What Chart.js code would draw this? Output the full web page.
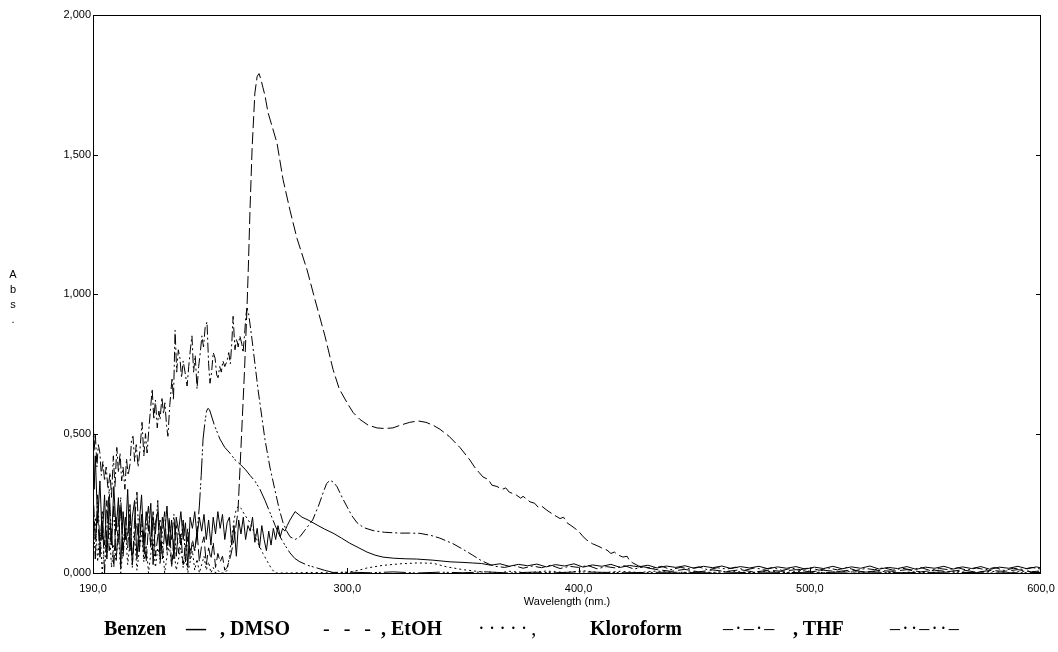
<!DOCTYPE html>
<html>
<head>
<meta charset="utf-8">
<title>Spektrum</title>
<script src="https://cdn.jsdelivr.net/npm/chart.js@4.4.1/dist/chart.umd.min.js"></script>
<style>
  body { margin: 0; background: #fff; }
  #wrap { position: relative; width: 1058px; height: 652px; overflow: hidden; }
  #chart { position: absolute; left: 0; top: 0; }
  #absTitle { position: absolute; left: 8px; top: 267px; width: 10px; text-align: center;
    font: 11px "Liberation Sans", Arial, sans-serif; line-height: 15px; color: #000; }
  .leg { position: absolute; top: 616px; font: bold 20px "Liberation Serif", "Times New Roman", serif;
    line-height: 24px; white-space: pre; color: #000; }
  .smp { font-weight: normal; }
</style>
</head>
<body>
<div id="wrap">
  <canvas id="chart" width="1058" height="652"></canvas>
  <div id="absTitle">A<br>b<br>s<br>.</div>
  <span class="leg" style="left:104px">Benzen</span>
  <span class="leg" style="left:186px">—</span>
  <span class="leg" style="left:220px">, DMSO</span>
  <span class="leg smp" style="left:323px; word-spacing:9px">- - -</span>
  <span class="leg" style="left:381px">, EtOH</span>
  <span class="leg smp" style="left:478px; letter-spacing:4px">·····,</span>
  <span class="leg" style="left:590px">Kloroform</span>
  <span class="leg smp" style="left:723px; letter-spacing:2px">–·–·–</span>
  <span class="leg" style="left:793px">, THF</span>
  <span class="leg smp" style="left:890px; letter-spacing:2px">–··–··–</span>
</div>
<script>
// axis ticks
const xTicks = [190, 300, 400, 500, 600];
const yTicks = [0, 0.5, 1, 1.5, 2];

// Benzen
const benzenNm = [
  190, 190.5, 191, 192, 193, 194, 195, 196, 197, 198,
  199, 200, 201, 202, 203, 204, 205, 206, 207, 208,
  209, 210, 211, 212, 213, 214, 215, 216, 217, 218,
  219, 220, 221, 222, 223, 224, 225, 226, 227, 228,
  229, 230, 231, 232, 233, 234, 235, 236, 237, 238,
  239, 240, 241, 242, 243, 244, 245, 246, 247, 248,
  249, 250, 251, 252, 253, 254, 255, 256, 257, 258,
  259, 260, 261, 262, 263, 264, 265, 266, 267, 268,
  269, 270, 271, 272, 273, 274, 275.2, 277.4, 280.4, 283,
  286.9, 290, 293.8, 297.5, 301, 305, 308.5, 312, 315.4, 320,
  325, 330, 337, 344.4, 350, 354, 358, 362, 366, 370,
  374, 378, 382, 386, 390, 394, 398, 402, 406, 410,
  414, 418, 422, 426, 430, 434, 438, 442, 446, 450,
  454, 458, 462, 466, 470, 474, 478, 482, 486, 490,
  494, 498, 502, 506, 510, 514, 518, 522, 526, 530,
  534, 538, 542, 546, 550, 554, 558, 562, 566, 570,
  574, 578, 582, 586, 590, 594, 598, 600
];
const benzenAbs = [
  0.55, 0.30, 0.42, 0.18, 0.33, 0.12, 0.28, 0.05, 0.25, 0.10,
  0.31, 0.15, 0.27, 0.02, 0.22, 0.12, 0.30, 0.08, 0.20, 0.26,
  0.05, 0.18, 0.28, 0.10, 0.22, 0.15, 0.25, 0.03, 0.18, 0.22,
  0.08, 0.20, 0.14, 0.24, 0.10, 0.19, 0.05, 0.20, 0.15, 0.22,
  0.12, 0.18, 0.02, 0.20, 0.16, 0.22, 0.13, 0.20, 0.15, 0.21,
  0.12, 0.19, 0.10, 0.20, 0.14, 0.22, 0.16, 0.21, 0.12, 0.18,
  0.20, 0.10, 0.17, 0.06, 0.19, 0.14, 0.20, 0.12, 0.17, 0.15,
  0.20, 0.11, 0.16, 0.09, 0.17, 0.12, 0.08, 0.15, 0.10, 0.16,
  0.12, 0.17, 0.13, 0.16, 0.15, 0.17, 0.19, 0.22, 0.20, 0.19,
  0.172, 0.158, 0.143, 0.125, 0.107, 0.090, 0.075, 0.064, 0.057, 0.053,
  0.051, 0.050, 0.046, 0.040, 0.038, 0.036, 0.034, 0.028, 0.033, 0.024,
  0.031, 0.026, 0.032, 0.022, 0.030, 0.025, 0.033, 0.021, 0.029, 0.024,
  0.031, 0.020, 0.027, 0.022, 0.028, 0.018, 0.025, 0.020, 0.026, 0.017,
  0.024, 0.019, 0.025, 0.016, 0.023, 0.018, 0.024, 0.015, 0.022, 0.017,
  0.023, 0.014, 0.021, 0.016, 0.024, 0.015, 0.022, 0.017, 0.025, 0.014,
  0.020, 0.016, 0.023, 0.013, 0.021, 0.017, 0.024, 0.014, 0.022, 0.016,
  0.023, 0.013, 0.021, 0.017, 0.024, 0.015, 0.022, 0.018
];

// DMSO
const dmsoNm = [
  190, 191, 192, 193, 194, 195, 196, 197, 198, 199,
  200, 201, 202, 203, 204, 205, 206, 207, 208, 209,
  210, 211, 212, 213, 214, 215, 216, 217, 218, 219,
  220, 221, 222, 223, 224, 225, 226, 227, 228, 229,
  230, 231, 232, 233, 234, 235, 236, 237, 238, 239,
  240, 241, 242, 243, 244, 245, 246, 247, 248, 249.5,
  251, 252.7, 254, 255.5, 256.6, 257.2, 257.9, 258.8, 260, 261,
  261.8, 262.6, 263.5, 264.4, 265.7, 267.5, 269.6, 272.2, 275.2, 278.2,
  282.6, 286, 290.3, 293.8, 296.5, 299.9, 302.5, 305.5, 309, 312.8,
  316, 319.7, 323, 327, 330.6, 334, 337, 340.1, 344, 348.7,
  353, 355, 357, 358.7, 361, 362.5, 364.7, 367, 368.5, 370,
  373, 375, 376, 379, 381, 382.5, 384, 386.3, 389, 392,
  393.5, 395, 397.6, 400, 402, 403.6, 406, 408, 410, 412.3,
  414, 415.5, 417, 419.2, 421, 422, 423.5, 426, 430, 434,
  440, 446, 452, 458, 464, 470, 476, 482, 488, 494,
  500, 506, 512, 518, 524, 530, 536, 542, 548, 554,
  560, 566, 572, 578, 584, 590, 596, 600
];
const dmsoAbs = [
  0.30, 0.12, 0.22, 0.05, 0.18, 0.10, 0.26, 0.08, 0.15, 0.02,
  0.20, 0.11, 0.24, 0.06, 0.16, 0.09, 0.21, 0.03, 0.14, 0.18,
  0.07, 0.20, 0.12, 0.04, 0.17, 0.10, 0.22, 0.06, 0.13, 0.19,
  0.05, 0.15, 0.09, 0.20, 0.02, 0.12, 0.17, 0.07, 0.14, 0.03,
  0.10, 0.16, 0.05, 0.12, 0.08, 0.15, 0.04, 0.10, 0.13, 0.03,
  0.09, 0.05, 0.11, 0.02, 0.07, 0.04, 0.06, 0.01, 0.02, 0.06,
  0.12, 0.22, 0.45, 0.72, 0.95, 1.10, 1.30, 1.52, 1.72, 1.78,
  1.79, 1.77, 1.74, 1.71, 1.65, 1.60, 1.54, 1.41, 1.30, 1.20,
  1.086, 0.98, 0.85, 0.73, 0.66, 0.61, 0.575, 0.55, 0.53, 0.52,
  0.518, 0.52, 0.53, 0.54, 0.545, 0.54, 0.53, 0.515, 0.49, 0.45,
  0.405, 0.38, 0.36, 0.344, 0.335, 0.315, 0.31, 0.30, 0.305, 0.29,
  0.28, 0.268, 0.275, 0.255, 0.25, 0.236, 0.24, 0.225, 0.21, 0.195,
  0.20, 0.18, 0.165, 0.15, 0.13, 0.118, 0.105, 0.098, 0.09, 0.082,
  0.07, 0.075, 0.065, 0.057, 0.06, 0.045, 0.036, 0.025, 0.018, 0.012,
  0.006, 0.013, 0.004, 0.011, 0.005, 0.012, 0.003, 0.010, 0.006, 0.012,
  0.004, 0.010, 0.005, 0.011, 0.003, 0.009, 0.006, 0.012, 0.004, 0.010,
  0.005, 0.011, 0.003, 0.009, 0.006, 0.012, 0.004, 0.008
];

// EtOH
const etohNm = [
  190, 191, 192, 193, 194, 195, 196, 197, 198, 199,
  200, 201, 202, 203, 204, 205, 206, 207, 208, 209,
  210, 211, 212, 213, 214, 215, 216, 217, 218, 219,
  220, 221, 222, 223, 224, 225, 226, 227, 228, 229,
  230, 231, 232, 233, 234, 235, 236, 237, 238, 239,
  240, 241, 242, 243, 244, 245, 246, 247, 248, 249,
  250, 251, 252, 253, 254, 255.5, 257.9, 260, 261.4, 263.5,
  265.5, 267, 268.7, 275, 285, 295, 300, 305, 308.5, 315,
  322.8, 330, 337, 343, 350, 357, 362, 366,
  370, 378, 386, 394, 402, 410, 418, 426, 434, 442,
  450, 458, 466, 474, 482, 490, 498, 506, 514, 522,
  530, 538, 546, 554, 562, 570, 578, 586, 594, 600
];
const etohAbs = [
  0.08, 0.20, 0.04, 0.15, 0.00, 0.12, 0.06, 0.18, 0.02, 0.10,
  0.05, 0.14, 0.00, 0.09, 0.16, 0.03, 0.11, 0.06, 0.13, 0.01,
  0.08, 0.15, 0.04, 0.10, 0.00, 0.07, 0.12, 0.02, 0.09, 0.05,
  0.11, 0.00, 0.06, 0.10, 0.03, 0.08, 0.01, 0.05, 0.09, 0.02,
  0.06, 0.00, 0.04, 0.08, 0.01, 0.05, 0.00, 0.03, 0.06, 0.01,
  0.04, 0.00, 0.02, 0.00, 0.01, 0.00, 0.00, 0.00, 0.01, 0.06,
  0.13, 0.19, 0.23, 0.24, 0.232, 0.21, 0.18, 0.14, 0.107, 0.07,
  0.04, 0.018, 0.0, 0.0, 0.002, 0.0, 0.002, 0.01, 0.018, 0.027,
  0.033, 0.036, 0.035, 0.022, 0.012, 0.005, 0.003, 0.001,
  0.006, 0.001, 0.007, 0.002, 0.008, 0.001, 0.006, 0.002, 0.007, 0.0,
  0.005, 0.002, 0.007, 0.001, 0.006, 0.002, 0.008, 0.001, 0.006, 0.002,
  0.007, 0.0, 0.005, 0.002, 0.007, 0.001, 0.006, 0.002, 0.007, 0.003
];

// Kloroform
const kloroformNm = [
  190, 190.5, 191, 191.7, 192.3, 193, 193.6, 194.3, 195, 195.7,
  196.5, 197.4, 198, 198.8, 199.5, 200.3, 201, 201.7, 202.4, 203,
  203.8, 204.5, 205.2, 206, 206.7, 207.3, 208, 208.7, 209.5, 210.3,
  211.2, 212, 212.7, 213.4, 214.2, 215, 215.6, 216.3, 217, 217.8,
  218.5, 219, 219.8, 220.5, 221.1, 221.8, 222.4, 223.2, 224.2, 224.8,
  225.5, 226.2, 226.9, 227.6, 228.3, 229, 229.8, 230.7, 231.4, 232.1,
  232.8, 233.5, 234.2, 235, 235.7, 236.4, 237.1, 237.8, 238.5, 239.3,
  240, 240.6, 241.3, 242, 242.8, 243.5, 244.1, 244.8, 245.5, 246.2,
  247, 248, 248.7, 249.4, 250, 250.6, 251.4, 252.1, 252.8, 253.5,
  254.4, 254.9, 255.6, 256.1, 256.6, 257.3, 258.8, 261.4, 264.4, 266.5,
  268.7, 270.5, 272.2, 273.8, 275.2, 277.4, 279.5, 281.7, 285, 287.5,
  289.5, 291, 292.5, 294, 295.5, 297.8, 299.9, 302, 304.2, 307,
  311.1, 316, 322.8, 327, 331.4, 336, 340, 345.7, 350, 354,
  357.4, 361.7, 364, 368, 372, 376, 380, 384, 388, 392,
  396, 400, 404, 408, 412, 416, 420, 424, 428, 432,
  436, 440, 444, 448, 452, 456, 460, 464, 468, 472,
  476, 480, 484, 488, 492, 496, 500, 504, 508, 512,
  516, 520, 524, 528, 532, 536, 540, 544, 548, 552,
  556, 560, 564, 568, 572, 576, 580, 584, 588, 592,
  596, 600
];
const kloroformAbs = [
  0.57, 0.44, 0.50, 0.38, 0.46, 0.43, 0.35, 0.40, 0.33, 0.38,
  0.30, 0.36, 0.27, 0.42, 0.31, 0.45, 0.36, 0.43, 0.33, 0.38,
  0.30, 0.41, 0.35, 0.39, 0.48, 0.49, 0.40, 0.46, 0.38, 0.44,
  0.54, 0.42, 0.50, 0.43, 0.52, 0.60, 0.66, 0.55, 0.62, 0.52,
  0.58, 0.55, 0.63, 0.57, 0.61, 0.53, 0.49, 0.60, 0.70, 0.62,
  0.87, 0.72, 0.80, 0.77, 0.70, 0.76, 0.72, 0.67, 0.74, 0.80,
  0.85, 0.72, 0.78, 0.66, 0.74, 0.79, 0.85, 0.81, 0.88, 0.90,
  0.75, 0.68, 0.72, 0.79, 0.77, 0.71, 0.70, 0.74, 0.72, 0.76,
  0.74, 0.76, 0.79, 0.75, 0.82, 0.92, 0.80, 0.84, 0.81, 0.85,
  0.82, 0.79, 0.86, 0.92, 0.95, 0.93, 0.835, 0.656, 0.477, 0.38,
  0.297, 0.23, 0.18, 0.15, 0.13, 0.12, 0.13, 0.154, 0.19, 0.24,
  0.287, 0.32, 0.333, 0.325, 0.31, 0.27, 0.237, 0.205, 0.18, 0.163,
  0.152, 0.146, 0.143, 0.143, 0.142, 0.135, 0.125, 0.105, 0.085, 0.065,
  0.047, 0.030, 0.024, 0.020, 0.027, 0.017, 0.025, 0.019, 0.028, 0.016,
  0.024, 0.020, 0.027, 0.015, 0.023, 0.018, 0.026, 0.014, 0.022, 0.017,
  0.024, 0.012, 0.020, 0.015, 0.022, 0.011, 0.019, 0.014, 0.021, 0.010,
  0.018, 0.013, 0.020, 0.009, 0.017, 0.012, 0.019, 0.010, 0.018, 0.011,
  0.020, 0.009, 0.016, 0.012, 0.019, 0.010, 0.017, 0.011, 0.020, 0.009,
  0.016, 0.012, 0.019, 0.010, 0.018, 0.012, 0.020, 0.009, 0.017, 0.013,
  0.020, 0.014
];

// THF
const thfNm = [
  190, 191, 192, 193, 194, 195, 196, 197, 198, 199,
  200, 201, 202, 203, 204, 205, 206, 207, 208, 209,
  210, 211, 212, 213, 214, 215, 216, 217, 218, 219,
  220, 221, 222, 223, 224, 225, 226, 227, 228, 229,
  230, 231, 232, 233, 234, 235, 236, 236.8, 237.6, 238.4,
  239.1, 239.7, 240.4, 242.5, 244.9, 247, 249.2, 251.5, 253.6, 256,
  257.9, 260, 262.2, 264.4, 266.6, 268.8, 270.9, 273, 275.2, 277.3,
  279.5, 283, 286.9, 290, 293.8, 300, 310, 320, 330, 340,
  350, 360, 370, 380, 390, 400, 420, 440, 460, 480,
  500, 520, 540, 560, 580, 600
];
const thfAbs = [
  0.20, 0.05, 0.28, 0.10, 0.22, 0.00, 0.16, 0.30, 0.12, 0.24,
  0.04, 0.18, 0.27, 0.08, 0.20, 0.13, 0.25, 0.02, 0.19, 0.29,
  0.10, 0.21, 0.05, 0.17, 0.24, 0.09, 0.20, 0.14, 0.26, 0.03,
  0.15, 0.22, 0.07, 0.18, 0.12, 0.21, 0.06, 0.16, 0.10, 0.19,
  0.04, 0.13, 0.08, 0.10, 0.08, 0.14, 0.24, 0.35, 0.48, 0.54,
  0.58, 0.59, 0.585, 0.53, 0.48, 0.45, 0.43, 0.405, 0.39, 0.37,
  0.35, 0.33, 0.30, 0.26, 0.215, 0.17, 0.13, 0.10, 0.072, 0.052,
  0.04, 0.027, 0.018, 0.01, 0.002, 0.003, 0.001, 0.004, 0.0, 0.003,
  0.001, 0.004, 0.0, 0.003, 0.001, 0.004, 0.001, 0.003, 0.0, 0.003,
  0.001, 0.004, 0.001, 0.003, 0.0, 0.002
];

const tickFont = { family: '"Liberation Sans", Arial, sans-serif', size: 11 };

function series(label, nm, abs, dash) {
  return {
    label,
    data: nm.map((v, i) => ({ x: v, y: abs[i] })),
    borderColor: '#000',
    borderWidth: 1,
    borderDash: dash,
    pointRadius: 0,
    tension: 0,
    fill: false
  };
}

// plot frame with short inward tick marks
const frameTicks = {
  id: 'frameTicks',
  afterDatasetsDraw(chart) {
    const { ctx, chartArea: a, scales: { x, y } } = chart;
    ctx.save();
    ctx.strokeStyle = '#000';
    ctx.lineWidth = 1;
    ctx.setLineDash([]);
    ctx.strokeRect(a.left + 0.5, a.top + 0.5, a.right - a.left - 1, a.bottom - a.top);
    ctx.beginPath();
    yTicks.slice(1, -1).forEach(v => {
      const py = Math.round(y.getPixelForValue(v)) + 0.5;
      ctx.moveTo(a.left, py); ctx.lineTo(a.left + 5, py);
      ctx.moveTo(a.right, py); ctx.lineTo(a.right - 5, py);
    });
    xTicks.slice(1, -1).forEach(v => {
      const px = Math.round(x.getPixelForValue(v)) + 0.5;
      ctx.moveTo(px, a.bottom); ctx.lineTo(px, a.bottom - 5);
    });
    ctx.stroke();
    ctx.restore();
  }
};

new Chart(document.getElementById('chart'), {
  type: 'line',
  data: {
    datasets: [
      series('Benzen', benzenNm, benzenAbs, []),
      series('DMSO', dmsoNm, dmsoAbs, [12, 4]),
      series('EtOH', etohNm, etohAbs, [2, 3]),
      series('Kloroform', kloroformNm, kloroformAbs, [10, 3, 2, 3]),
      series('THF', thfNm, thfAbs, [22, 3, 2, 2, 2, 3])
    ]
  },
  options: {
    responsive: false,
    animation: false,
    events: [],
    layout: { padding: { top: 15, right: 17, bottom: 39, left: 0 } },
    plugins: { legend: { display: false }, tooltip: { enabled: false } },
    scales: {
      x: {
        type: 'linear',
        min: 190,
        max: 600,
        afterBuildTicks: s => { s.ticks = xTicks.map(v => ({ value: v })); },
        afterFit: s => { s.height = 40; s.paddingLeft = 0; s.paddingRight = 0; },
        grid: { display: false, drawTicks: false },
        border: { display: false },
        ticks: {
          padding: 9,
          color: '#000',
          font: tickFont,
          maxRotation: 0,
          autoSkip: false,
          callback: v => v.toFixed(1).replace('.', ',')
        },
        title: {
          display: true,
          text: 'Wavelength (nm.)',
          color: '#000',
          font: tickFont,
          padding: { top: 0, bottom: 4 }
        }
      },
      y: {
        min: 0,
        max: 2,
        afterBuildTicks: s => { s.ticks = yTicks.map(v => ({ value: v })); },
        afterFit: s => { s.width = 93; s.paddingTop = 0; s.paddingBottom = 0; },
        grid: { display: false, drawTicks: false },
        border: { display: false },
        ticks: {
          padding: 2,
          color: '#000',
          font: tickFont,
          autoSkip: false,
          callback: v => v.toFixed(3).replace('.', ',')
        }
      }
    }
  },
  plugins: [frameTicks]
});
</script>
</body>
</html>
